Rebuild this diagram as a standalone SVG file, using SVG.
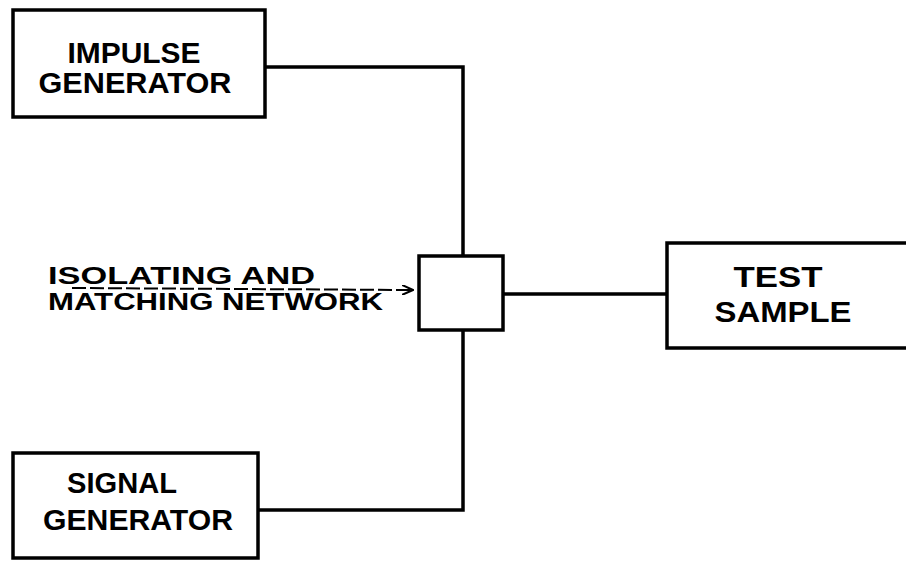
<svg xmlns="http://www.w3.org/2000/svg" width="906" height="565" viewBox="0 0 906 565">
<style>
.box{fill:none;stroke:#000;stroke-width:3.5}
.wire{fill:none;stroke:#000;stroke-width:3.5}
.lbl{font-family:"Liberation Sans",Arial,sans-serif;font-weight:bold;font-size:29px;fill:#000}
.note{font-family:"Liberation Sans",Arial,sans-serif;font-weight:bold;font-size:23px;fill:#000}
</style>
<defs>
<marker id="arr" viewBox="0 0 12 10" refX="11" refY="5" markerWidth="12" markerHeight="10" markerUnits="userSpaceOnUse" orient="auto">
<path d="M0,0 L11,5 L0,10" fill="none" stroke="#000" stroke-width="2"/>
</marker>
</defs>
<rect width="906" height="565" fill="#fff"/>
<g id="connectors">
<polyline class="wire" points="265,67 463,67 463,256"/>
<polyline class="wire" points="258,510 463,510 463,330"/>
<line class="wire" x1="503" y1="294" x2="667" y2="294"/>
<line x1="72" y1="288" x2="413" y2="290" stroke="#000" stroke-width="2" stroke-dasharray="14,4" marker-end="url(#arr)"/>
</g>
<g id="impulse-generator">
<rect class="box" x="13" y="10" width="252" height="107"/>
<text class="lbl" x="134" y="63" text-anchor="middle" textLength="133" lengthAdjust="spacingAndGlyphs">IMPULSE</text>
<text class="lbl" x="135" y="93" text-anchor="middle" textLength="193" lengthAdjust="spacingAndGlyphs">GENERATOR</text>
</g>
<g id="isolating-network">
<rect class="box" x="419" y="256" width="84" height="74"/>
<text class="note" x="48" y="284" textLength="267" lengthAdjust="spacingAndGlyphs">ISOLATING  AND</text>
<text class="note" x="48" y="310" textLength="335" lengthAdjust="spacingAndGlyphs">MATCHING NETWORK</text>
</g>
<g id="test-sample">
<polyline class="box" points="910,243 667,243 667,348 910,348"/>
<text class="lbl" x="778" y="287" text-anchor="middle" textLength="89" lengthAdjust="spacingAndGlyphs">TEST</text>
<text class="lbl" x="783" y="322" text-anchor="middle" textLength="137" lengthAdjust="spacingAndGlyphs">SAMPLE</text>
</g>
<g id="signal-generator">
<rect class="box" x="13" y="453" width="245" height="105"/>
<text class="lbl" x="122" y="493" text-anchor="middle" textLength="110" lengthAdjust="spacingAndGlyphs">SIGNAL</text>
<text class="lbl" x="138" y="530" text-anchor="middle" textLength="190" lengthAdjust="spacingAndGlyphs">GENERATOR</text>
</g>
</svg>
